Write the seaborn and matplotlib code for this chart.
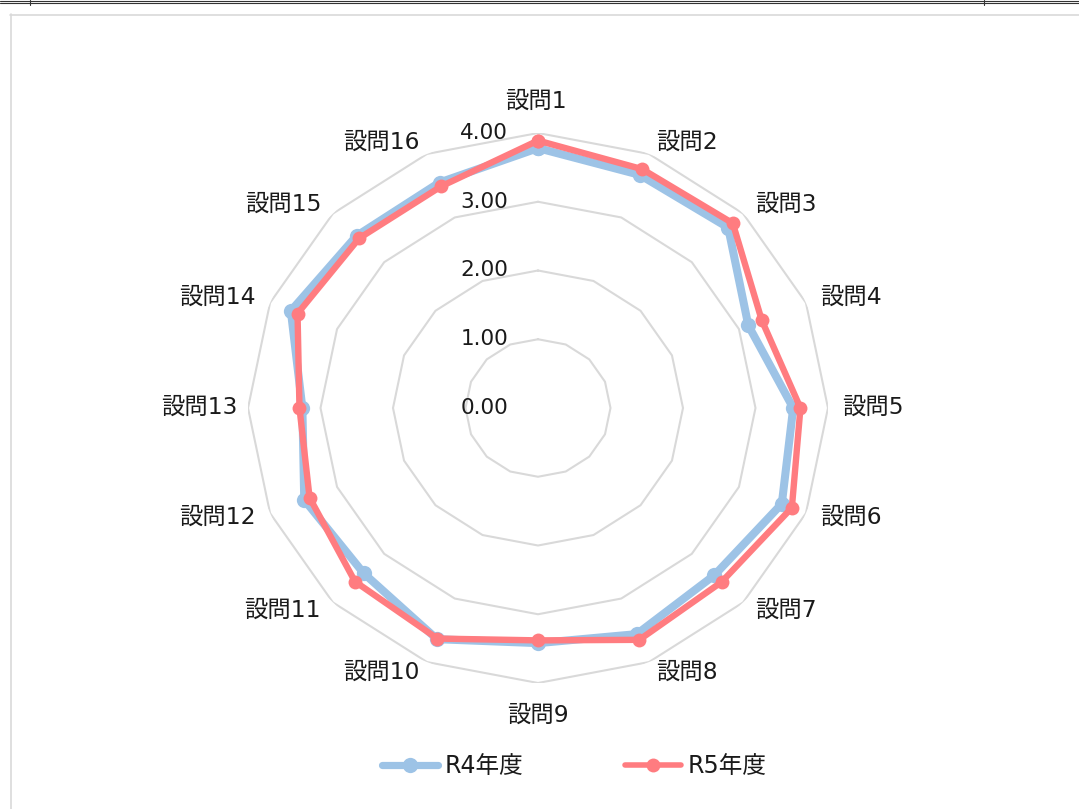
import numpy as np
import pandas as pd
import matplotlib
matplotlib.use("Agg")
import matplotlib.pyplot as plt
from matplotlib.lines import Line2D
import seaborn as sns

# ---- data ----
questions = ["設問1", "設問2", "設問3", "設問4", "設問5", "設問6", "設問7", "設問8",
             "設問9", "設問10", "設問11", "設問12", "設問13", "設問14", "設問15", "設問16"]
r4_values = [3.78, 3.67, 3.71, 3.14, 3.52, 3.64, 3.44, 3.56,
             3.42, 3.64, 3.40, 3.49, 3.25, 3.69, 3.54, 3.55]
r5_values = [3.89, 3.76, 3.80, 3.34, 3.62, 3.79, 3.58, 3.65,
             3.38, 3.63, 3.57, 3.41, 3.29, 3.59, 3.49, 3.49]
series_names = ["R4年度", "R5年度"]
grid_levels = [1, 2, 3, 4]
tick_values = [0, 1, 2, 3, 4]
tick_labels = ["0.00", "1.00", "2.00", "3.00", "4.00"]

colors = {"R4年度": "#9DC3E6", "R5年度": "#FF7C80"}
lws = {"R4年度": 5.8, "R5年度": 4.6}
mss = {"R4年度": 11, "R5年度": 10}

sns.set_theme(style="white")
plt.rcParams["font.family"] = ["DejaVu Sans", "Noto Sans CJK JP"]
text_color = "#1a1a1a"

W, H = 1079, 809
fig = plt.figure(figsize=(W / 100, H / 100), dpi=100)
fig.patch.set_facecolor("white")

cx, cy, rx, ry = 538, 408, 290, 275
ax = fig.add_axes([(cx - rx) / W, (H - cy - ry) / H, 2 * rx / W, 2 * ry / H],
                  projection="polar")
ax.set_aspect("auto")
ax.set_theta_zero_location("N")
ax.set_theta_direction(-1)
ax.set_facecolor("none")

n = len(questions)
theta = np.linspace(0, 2 * np.pi, n, endpoint=False)
theta_closed = np.append(theta, theta[0])

for lv in grid_levels:
    ax.plot(theta_closed, [lv] * (n + 1), color="#d9d9d9", lw=1.5, zorder=1)

rows = []
for name, vals in zip(series_names, [r4_values, r5_values]):
    closed = list(vals) + [vals[0]]
    for t, v in zip(theta_closed, closed):
        rows.append({"theta": t, "value": v, "series": name})
df = pd.DataFrame(rows)

for i, name in enumerate(series_names):
    sub = df[df["series"] == name]
    sns.lineplot(data=sub, x="theta", y="value", sort=False, estimator=None,
                 color=colors[name], lw=lws[name], marker="o", markersize=mss[name],
                 markeredgewidth=0, ax=ax, legend=False, zorder=3 + i)

ax.set_ylim(0, 4)
ax.set_xticks([])
ax.set_yticks([])
ax.grid(False)
ax.spines["polar"].set_visible(False)
ax.set_xlabel("")
ax.set_ylabel("")

for v, lab in zip(tick_values, tick_labels):
    ax.annotate(lab, xy=(0, v), xytext=(-21.6, 0), textcoords="offset points",
                ha="right", va="center", fontsize=15.5, color=text_color,
                annotation_clip=False, zorder=6)

# category labels (anchor px positions, alignment)
label_pos = [
    (536, 101.7, "center"), (656, 142, "left"), (755, 204.5, "left"), (820, 297, "left"),
    (842, 407, "left"), (820, 517, "left"), (755, 610, "left"), (656, 672, "left"),
    (538, 715, "center"), (420, 672, "right"), (321, 610, "right"), (256, 517, "right"),
    (238, 407, "right"), (256, 297, "right"), (321, 204.5, "right"), (420, 142, "right"),
]
for q, (px, py, ha) in zip(questions, label_pos):
    fig.text(px / W, 1 - py / H, q, ha=ha, va="center", fontsize=16.8, color=text_color)

# legend
handles = [Line2D([0], [0], color=colors[nm], lw=lws[nm] - 0.6, marker="o",
                  markersize=mss[nm], markeredgewidth=0) for nm in series_names]
fig.legend(handles, series_names, loc="center", bbox_to_anchor=(574 / W, 1 - 766 / H),
           ncol=2, frameon=False, fontsize=17, handlelength=2.4, handletextpad=0.25,
           columnspacing=4.3, labelcolor=text_color)

# surrounding frame decorations
for yy in (1.0, 3.2):
    fig.add_artist(Line2D([0, 1], [1 - yy / H] * 2, color="#333333", lw=0.8,
                          transform=fig.transFigure))
for xx in (30, 984):
    fig.add_artist(Line2D([xx / W] * 2, [1, 1 - 5 / H], color="#333333", lw=0.8,
                          transform=fig.transFigure))
fig.add_artist(Line2D([10.5 / W] * 2, [1 - 14 / H, 0], color="#d9d9d9", lw=1.2,
                      transform=fig.transFigure))
fig.add_artist(Line2D([10 / W, 1], [1 - 14.5 / H] * 2, color="#d9d9d9", lw=1.2,
                      transform=fig.transFigure))

fig.savefig("out.png", dpi=100, facecolor="white")
